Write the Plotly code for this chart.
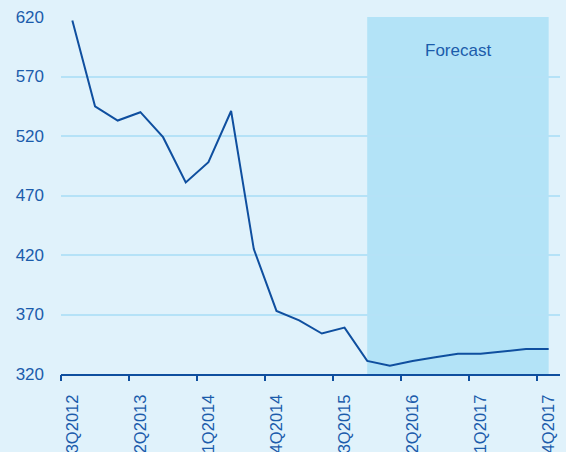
import plotly.graph_objects as go

# Quarterly series, 3Q2012 through 4Q2017
quarters = [
    "3Q2012", "4Q2012", "1Q2013", "2Q2013", "3Q2013", "4Q2013",
    "1Q2014", "2Q2014", "3Q2014", "4Q2014", "1Q2015", "2Q2015",
    "3Q2015", "4Q2015", "1Q2016", "2Q2016", "3Q2016", "4Q2016",
    "1Q2017", "2Q2017", "3Q2017", "4Q2017",
]
values = [
    617, 545, 533, 540, 519, 481, 498, 541, 425, 373, 365, 354,
    359, 331, 327, 331, 334, 337, 337, 339, 341, 341,
]
forecast_start = "4Q2015"
forecast_end = "4Q2017"
label_step = 3
y_ticks = [320, 370, 420, 470, 520, 570, 620]

BG = "#e0f2fb"
GRID = "#b5e2f7"
SHADE = "#b3e3f7"
LINE = "#0f4f9f"
TEXT = "#1b5cab"
FONT = "Liberation Sans, Arial, sans-serif"

idx = list(range(len(quarters)))
label_idx = idx[::label_step]
x_lo, x_hi = -0.5, len(quarters) - 0.5

fig = go.Figure()
fig.add_trace(go.Scatter(
    x=idx, y=values, mode="lines",
    line=dict(color=LINE, width=2),
    hoverinfo="skip", showlegend=False,
))

# Shaded forecast band
fig.add_vrect(
    x0=quarters.index(forecast_start), x1=quarters.index(forecast_end),
    fillcolor=SHADE, line_width=0, layer="below",
)
fig.add_annotation(
    x=(quarters.index(forecast_start) + quarters.index(forecast_end)) / 2,
    y=1, yref="paper", yanchor="middle", yshift=-33,
    text="Forecast", showarrow=False,
    font=dict(family=FONT, size=17, color=TEXT),
)

fig.update_layout(
    width=566, height=452,
    margin=dict(l=61, r=6, t=17, b=78, autoexpand=False),
    paper_bgcolor=BG, plot_bgcolor=BG,
    font=dict(family=FONT, color=TEXT),
    xaxis=dict(
        range=[x_lo, x_hi], automargin=False,
        tickmode="array", tickvals=label_idx,
        ticktext=[quarters[i] for i in label_idx],
        tickangle=-90, ticks="", ticklabelstandoff=12,
        tickfont=dict(family=FONT, size=16.5, color=TEXT),
        showgrid=False, zeroline=False,
        showline=True, linecolor=LINE, linewidth=2,
    ),
    # Tick marks sit on the quarter boundaries, left of each labelled quarter
    xaxis2=dict(
        overlaying="x", side="bottom", matches="x",
        range=[x_lo, x_hi], automargin=False,
        tickmode="array", tickvals=[i - 0.5 for i in label_idx],
        ticks="outside", ticklen=6, tickwidth=2, tickcolor=LINE,
        showticklabels=False, showgrid=False, zeroline=False,
        showline=False,
    ),
    yaxis=dict(
        range=[320, 620], automargin=False,
        tickmode="array", tickvals=y_ticks,
        ticks="", ticklabelstandoff=16,
        tickfont=dict(family=FONT, size=17, color=TEXT),
        showgrid=True, gridcolor=GRID, gridwidth=2,
        zeroline=False, showline=False,
    ),
)
# Keep the overlay axis drawn
fig.add_trace(go.Scatter(x=[x_lo], y=[None], xaxis="x2", mode="lines",
                         hoverinfo="skip", showlegend=False))

fig.write_html("out.html")
